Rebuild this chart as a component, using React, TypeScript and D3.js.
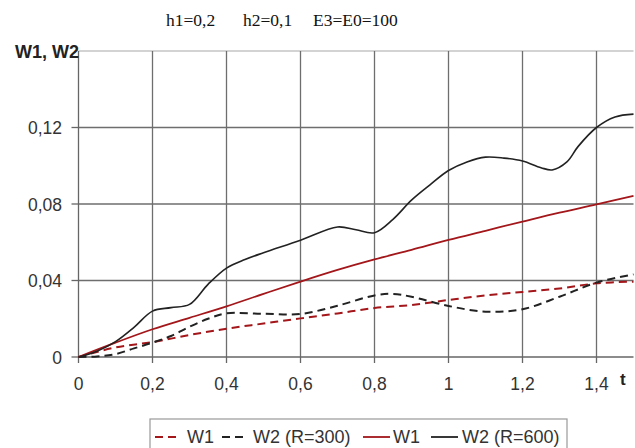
import React, { useRef, useEffect } from 'react';
import * as d3 from 'd3';

// t values and series
const tW2600 = [0, 0.05, 0.1, 0.15, 0.2, 0.25, 0.3, 0.35, 0.4, 0.45, 0.5, 0.6, 0.7, 0.75, 0.8, 0.85, 0.9, 0.95, 1.0, 1.05, 1.1, 1.15, 1.2, 1.25, 1.28, 1.32, 1.35, 1.4, 1.45, 1.5];
const w2R600 = [0, 0.003, 0.008, 0.0155, 0.024, 0.0258, 0.0275, 0.038, 0.0465, 0.051, 0.0545, 0.061, 0.068, 0.0665, 0.065, 0.072, 0.082, 0.09, 0.0975, 0.102, 0.1045, 0.104, 0.1025, 0.099, 0.0978, 0.102, 0.11, 0.12, 0.1255, 0.127];

const tGrid = [0, 0.1, 0.2, 0.3, 0.4, 0.5, 0.6, 0.7, 0.8, 0.9, 1.0, 1.1, 1.2, 1.3, 1.4, 1.5];
const w1R600 = [0, 0.0075, 0.0145, 0.0205, 0.0265, 0.033, 0.0394, 0.0455, 0.051, 0.056, 0.0612, 0.066, 0.0708, 0.0755, 0.0798, 0.0843];
const w1R300 = [0, 0.005, 0.0078, 0.0115, 0.0148, 0.0175, 0.0202, 0.0228, 0.0256, 0.0272, 0.0298, 0.0322, 0.034, 0.0358, 0.0385, 0.0394];

const tW2300 = [0, 0.05, 0.1, 0.15, 0.2, 0.25, 0.3, 0.35, 0.4, 0.5, 0.6, 0.7, 0.8, 0.85, 0.9, 1.0, 1.1, 1.2, 1.3, 1.4, 1.5];
const w2R300 = [0, 0.0003, 0.0015, 0.0045, 0.0075, 0.011, 0.0158, 0.02, 0.0228, 0.0226, 0.0225, 0.0268, 0.0322, 0.033, 0.0315, 0.0267, 0.0237, 0.025, 0.0315, 0.0389, 0.0432];

const xTicks = [0, 0.2, 0.4, 0.6, 0.8, 1, 1.2, 1.4];
const yTicks = [0, 0.04, 0.08, 0.12];
const fmt = (v: number) => String(v).replace('.', ',');

const RED = '#a3161a';
const BLACK = '#222222';

export default function App() {
  const svgRef = useRef<SVGSVGElement>(null);

  useEffect(() => {
    if (!svgRef.current) return;
    const width = 635;
    const height = 448;
    const svg = d3.select(svgRef.current);
    svg.selectAll('*').remove();

    const x = d3.scaleLinear().domain([0, 1.5]).range([78.5, 633.5]);
    const y = d3.scaleLinear().domain([0, 0.16]).range([357, 51]);

    svg.append('rect').attr('width', width).attr('height', height).attr('fill', '#fff');

    // title
    svg.append('text')
      .attr('y', 26)
      .attr('font-family', '"Liberation Serif", "Times New Roman", serif')
      .attr('font-size', '17.5px')
      .attr('fill', '#111')
      .selectAll('tspan')
      .data([['h1=0,2', 166], ['h2=0,1', 243], ['E3=E0=100', 313]])
      .join('tspan')
      .attr('x', d => d[1] as number)
      .text(d => d[0] as string);

    // top border
    svg.append('line')
      .attr('x1', x(0)).attr('x2', x(1.5))
      .attr('y1', y(0.16)).attr('y2', y(0.16))
      .attr('stroke', '#c4c4c4').attr('stroke-width', 1.5);

    // grid
    yTicks.filter(t => t > 0).forEach(t => {
      svg.append('line')
        .attr('x1', x(0)).attr('x2', x(1.5))
        .attr('y1', y(t)).attr('y2', y(t))
        .attr('stroke', '#6e6e6e').attr('stroke-width', 1.3);
    });
    xTicks.filter(t => t > 0).forEach(t => {
      svg.append('line')
        .attr('x1', x(t)).attr('x2', x(t))
        .attr('y1', y(0.16)).attr('y2', y(0))
        .attr('stroke', '#6e6e6e').attr('stroke-width', 1.3);
    });

    // axes
    svg.append('line')
      .attr('x1', x(0)).attr('x2', x(0)).attr('y1', y(0.16)).attr('y2', y(0))
      .attr('stroke', '#666').attr('stroke-width', 1.3);
    svg.append('line')
      .attr('x1', x(0)).attr('x2', x(1.5)).attr('y1', y(0)).attr('y2', y(0))
      .attr('stroke', '#666').attr('stroke-width', 1.3);

    const font = '"Liberation Sans", Arial, sans-serif';

    yTicks.forEach(t => {
      svg.append('line')
        .attr('x1', x(0) - 7).attr('x2', x(0))
        .attr('y1', y(t)).attr('y2', y(t))
        .attr('stroke', '#666').attr('stroke-width', 1.3);
      svg.append('text')
        .attr('x', 62).attr('y', y(t) + 6.5)
        .attr('text-anchor', 'end')
        .attr('font-family', font).attr('font-size', '17.5px').attr('fill', '#333')
        .text(fmt(t));
    });
    xTicks.forEach(t => {
      svg.append('line')
        .attr('x1', x(t)).attr('x2', x(t))
        .attr('y1', y(0)).attr('y2', y(0) + 6)
        .attr('stroke', '#666').attr('stroke-width', 1.3);
      svg.append('text')
        .attr('x', x(t)).attr('y', 390)
        .attr('text-anchor', 'middle')
        .attr('font-family', font).attr('font-size', '17.5px').attr('fill', '#333')
        .text(fmt(t));
    });

    svg.append('text')
      .attr('x', 15).attr('y', 58)
      .attr('font-family', font).attr('font-size', '18px').attr('font-weight', 'bold').attr('fill', '#222')
      .text('W1, W2');
    svg.append('text')
      .attr('x', 620).attr('y', 385)
      .attr('font-family', font).attr('font-size', '17px').attr('font-weight', 'bold').attr('fill', '#222')
      .text('t');

    const line = d3.line<[number, number]>()
      .x(d => x(d[0]))
      .y(d => y(d[1]))
      .curve(d3.curveCatmullRom.alpha(0.5));

    const series = [
      { t: tGrid, v: w1R300, color: RED, dash: '8,5', w: 2 },
      { t: tW2300, v: w2R300, color: BLACK, dash: '8,5', w: 2 },
      { t: tGrid, v: w1R600, color: RED, dash: null, w: 1.8 },
      { t: tW2600, v: w2R600, color: BLACK, dash: null, w: 1.6 },
    ];
    series.forEach(s => {
      const pts = s.t.map((t, i) => [t, s.v[i]] as [number, number]);
      const p = svg.append('path')
        .attr('d', line(pts))
        .attr('fill', 'none')
        .attr('stroke', s.color)
        .attr('stroke-width', s.w);
      if (s.dash) p.attr('stroke-dasharray', s.dash);
    });

    // legend
    svg.append('rect')
      .attr('x', 150).attr('y', 419).attr('width', 417).attr('height', 36)
      .attr('fill', '#fff').attr('stroke', '#999').attr('stroke-width', 1.2);
    const items = [
      { x1: 155, x2: 180, tx: 187, color: RED, dash: '8,5', label: 'W1' },
      { x1: 222, x2: 247, tx: 253, color: BLACK, dash: '8,5', label: 'W2 (R=300)' },
      { x1: 363, x2: 390, tx: 393, color: RED, dash: null, label: 'W1' },
      { x1: 431, x2: 458, tx: 462, color: BLACK, dash: null, label: 'W2 (R=600)' },
    ];
    items.forEach(it => {
      const l = svg.append('line')
        .attr('x1', it.x1).attr('x2', it.x2).attr('y1', 437).attr('y2', 437)
        .attr('stroke', it.color).attr('stroke-width', 1.8);
      if (it.dash) l.attr('stroke-dasharray', it.dash);
      svg.append('text')
        .attr('x', it.tx).attr('y', 443)
        .attr('font-family', font).attr('font-size', '18px').attr('fill', '#333')
        .text(it.label);
    });
  }, []);

  return (
    <svg
      ref={svgRef}
      width={635}
      height={448}
      style={{ position: 'absolute', left: 0, top: 0, display: 'block' }}
    />
  );
}
